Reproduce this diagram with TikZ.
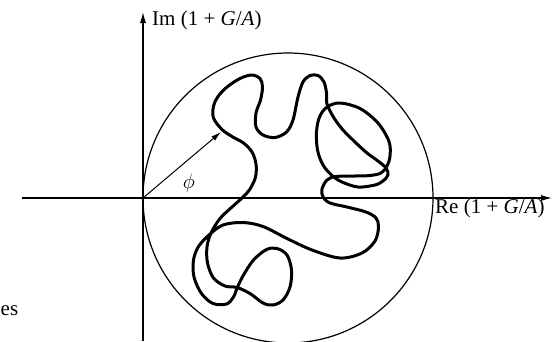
\documentclass[tikz,border=0pt]{standalone}
\usepackage{fontspec}
\setmainfont{Liberation Serif}
\usetikzlibrary{arrows.meta}

\begin{document}
\begin{tikzpicture}[x=1pt, y=-1pt,
    axis/.style={line width=1.2pt, -{Latex[length=11pt, width=6pt]}},
    locus/.style={line width=3pt, line join=round},
    lbl/.style={font=\fontsize{21}{24}\selectfont, inner sep=0pt}]
    \useasboundingbox (0,0) rectangle (553,341);
    % axes
    \coordinate (O) at (143,198);
    \coordinate (xstart) at (22,198);
    \coordinate (xend) at (552,198);
    \coordinate (ystart) at (143,341);
    \coordinate (yend) at (143,12);
    \draw[axis] (xstart) -- (xend);
    \draw[axis] (ystart) -- (yend);
    \node[lbl, anchor=west] (imlabel) at (152,20) {Im (1 + \textit{G}/\textit{A})};
    \node[lbl, anchor=west] (relabel) at (435,208) {Re (1 + \textit{G}/\textit{A})};
    \node[lbl, anchor=west] (eslabel) at (0.5,311) {es};
    % unit circle through the origin
    \draw[line width=1.2pt] (288,198) circle (145pt);
    % phase arrow
    \coordinate (phitip) at (221,132);
    \draw[line width=1pt, -{Latex[length=10pt, width=5.5pt]}] (O) -- (phitip);
    \node[font=\fontsize{20}{22}\selectfont, inner sep=0pt] (philabel) at (189,183) {$\phi$};
    % locus
    \draw[locus] plot[smooth cycle, tension=0.55] coordinates {
        (222,129.5) (213.5,118) (213.5,106) (218,96.5) (227,87) (240,78.5)
        (251.5,75) (260,78.5) (262.5,87) (260.5,100) (256,113) (256,127)
        (263,135) (275,137.5) (286.5,132) (293,120) (298,97) (303,82)
        (310,75.5) (318,75.5) (324,82) (326.5,93) (327,104) (334,118)
        (343,130) (355,142) (367,153) (378,161) (386,168) (388,175)
        (383,181) (375,185) (358,187) (342,182) (332,175.5) (323,165)
        (317.5,150) (316.5,132) (319.5,117) (327,107) (340,103) (360,108.5)
        (378,123) (389,141.5) (390,156) (387,166) (381,173) (370,175.5)
        (355,176) (336,176.5) (327,180) (322,189) (323,197) (330,203)
        (347,207) (366,212) (376,218) (378.5,227) (375,241) (362,253)
        (340,258) (312,250) (287,238.5) (263,226.5) (243,222.5) (223,225)
        (209,235) (198.5,246.5) (193.5,260) (194,277) (201.5,293.5) (213,303.5)
        (226.5,304) (233.5,297) (237.5,287) (243.5,275) (253.5,260) (266.5,249.5)
        (277,248.5) (287,255) (291.5,270) (290,287) (283,300) (273,305)
        (263,303) (250,293.5) (237,287.5) (225,286) (213.5,278) (207.5,263)
        (207,247) (211,233) (220,218.5) (232,207) (242,198) (250,189)
        (255.5,177) (256,164) (252,152) (243.5,143) (232,136.5)};
\end{tikzpicture}
\end{document}
